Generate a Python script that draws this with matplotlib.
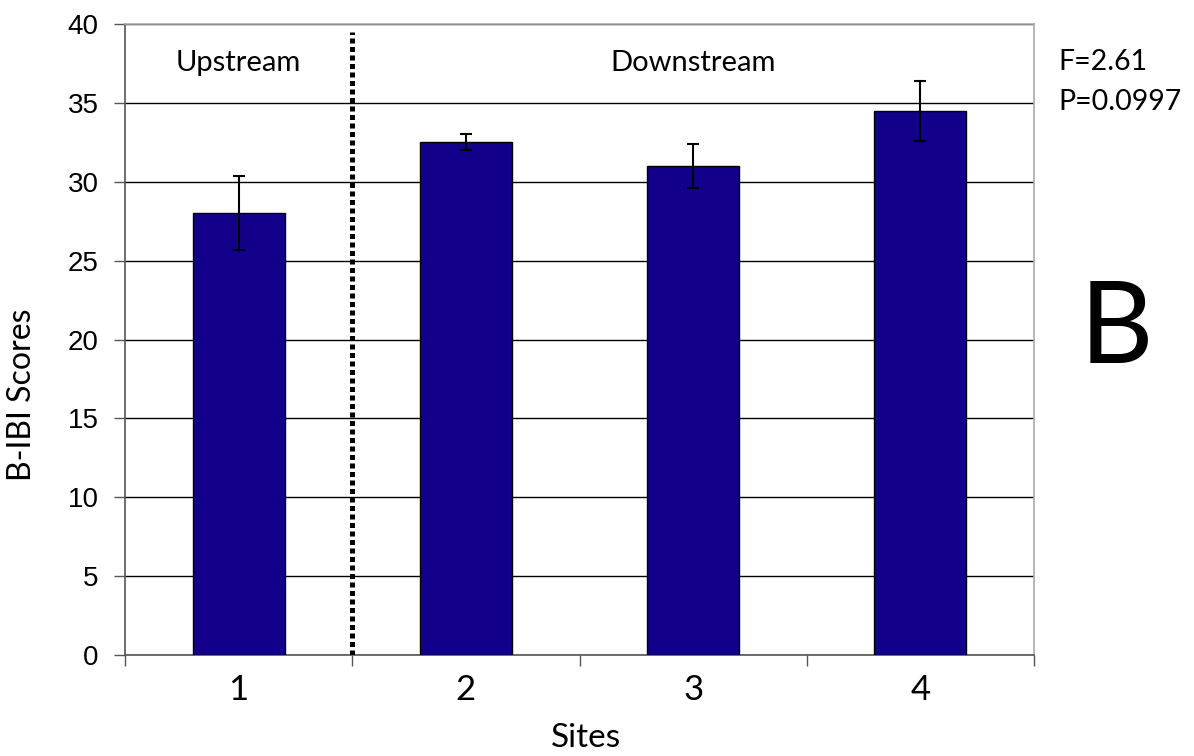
import matplotlib.pyplot as plt
import numpy as np

sites = ["1", "2", "3", "4"]
scores = [28.0, 32.5, 31.0, 34.5]
errors = [2.35, 0.5, 1.4, 1.9]
stats_text = ["F=2.61", "P=0.0997"]

BAR_COLOR = "#12008a"
LABEL_FONT = ["Lato", "DejaVu Sans"]
TICK_FONT = ["Liberation Sans", "DejaVu Sans"]

fig = plt.figure(figsize=(11.94, 7.56), dpi=100)
ax = fig.add_axes([0.1047, 0.1336, 0.7613, 0.8346])

x = np.arange(1, len(sites) + 1)
ax.bar(x, scores, width=0.405, color=BAR_COLOR, edgecolor="black",
       linewidth=1.0, zorder=3)
ax.errorbar(x, scores, yerr=errors, fmt="none", ecolor="black",
            elinewidth=1.5, capsize=4.6, capthick=1.5, zorder=4)

ax.set_xlim(0.5, 4.5)
ax.set_ylim(0, 40)
ax.set_yticks(range(0, 41, 5))
ax.yaxis.grid(True, color="black", linewidth=1.0, zorder=0)
ax.set_axisbelow(True)

# category labels sit between the boundary ticks
ax.set_xticks(np.arange(0.5, 4.6, 1.0))
ax.set_xticklabels([])
ax.set_xticks(x, minor=True)
ax.set_xticklabels(sites, minor=True, fontsize=25, family=LABEL_FONT)
ax.tick_params(axis="x", which="major", direction="out", length=8,
               width=1.0, color="#555555")
ax.tick_params(axis="x", which="minor", length=0, pad=14)
ax.tick_params(axis="y", direction="out", length=8, width=1.0,
               color="#555555", labelsize=20, pad=11)
for lab in ax.get_yticklabels():
    lab.set_family(TICK_FONT)

ax.spines["left"].set_color("#555555")
ax.spines["bottom"].set_color("#555555")
ax.spines["top"].set_color("#aaaaaa")
ax.spines["right"].set_color("#aaaaaa")
for s in ax.spines.values():
    s.set_linewidth(1.2)

# upstream / downstream divider
ax.plot([1.5, 1.5], [0, 39.5], color="black", linewidth=3.6,
        linestyle=(0, (1, 0.7)), zorder=5)

ax.text(1, 37.5, "Upstream", ha="center", va="center", fontsize=21,
        family=LABEL_FONT)
ax.text(3, 37.5, "Downstream", ha="center", va="center", fontsize=21,
        family=LABEL_FONT)

fig.text(586 / 1194, 1 - 738 / 756, "Sites", ha="center", va="center",
         fontsize=24, family=LABEL_FONT)
fig.text(22 / 1194, 1 - 395 / 756, "B-IBI Scores", ha="center", va="center",
         rotation=90, fontsize=23, family=LABEL_FONT)

fig.text(0.886, 1 - 62 / 756, stats_text[0], ha="left", va="center",
         fontsize=20.5, family=LABEL_FONT)
fig.text(0.886, 1 - 102 / 756, stats_text[1], ha="left", va="center",
         fontsize=20.5, family=LABEL_FONT)
fig.text(1116 / 1194, 1 - 331 / 756, "B", ha="center", va="center",
         fontsize=82, family=LABEL_FONT)

fig.savefig("out.png", dpi=100)
